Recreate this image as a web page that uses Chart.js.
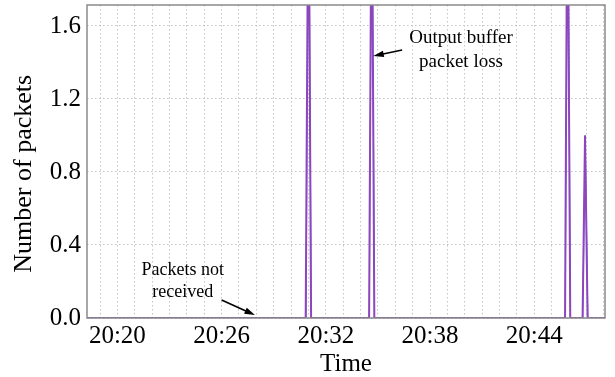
<!DOCTYPE html>
<html>
<head>
<meta charset="utf-8">
<script src="https://cdn.jsdelivr.net/npm/chart.js@4/dist/chart.umd.min.js"></script>
<style>
  body { margin: 0; background: #fff; }
  canvas { display: block; }
</style>
</head>
<body>
<canvas id="packetChart" width="615" height="377"></canvas>
<script>
// time in minutes after 20:00
const timeMin = 18.25;
const timeMax = 48.07;
const purpleTimes = [18.25, 30.84, 31.0, 31.15, 34.49, 34.64, 34.79, 45.77, 45.91, 46.07, 46.78, 46.92, 47.07, 48.07];
const purpleValues = [0, 0, 2.6, 0, 0, 2.6, 0, 0, 2.6, 0, 0, 1.0, 0, 0];
const blueTimes = [18.25, 30.86, 31.01, 31.16, 34.5, 34.65, 34.8, 45.78, 45.92, 46.08, 46.79, 46.93, 47.08, 48.07];
const blueValues = [0, 0, 2.6, 0, 0, 2.6, 0, 0, 2.6, 0, 0, 1.0, 0, 0];

const xGridTicks = Array.from({ length: 30 }, (_, i) => 19 + i); // one grid line per minute
const xLabelStep = 6;
const yTickValues = [0, 0.4, 0.8, 1.2, 1.6];
const yMax = 1.715;
const yTitle = 'Number of packets';
const yTitleCenter = 0.79; // the title sits a little below the middle of the axis

// annotation notes: text lines and arrows, in data units
const notes = [
    { lines: ['Output buffer', 'packet loss'], x: 39.78, y: [1.534, 1.40], size: 19,
      arrow: { x1: 36.39, y1: 1.468, x2: 34.73, y2: 1.436 } },
    { lines: ['Packets not', 'received'], x: 23.76, y: [0.263, 0.139], size: 18,
      arrow: { x1: 26.0, y1: 0.099, x2: 27.92, y2: 0.016 } }
];

const serif = '"Liberation Serif", "DejaVu Serif", serif';

function toPoints(xs, ys) {
    return xs.map((x, i) => ({ x: x, y: ys[i] }));
}

function fmtTime(v) {
    const h = 20 + Math.floor(v / 60);
    const m = Math.round(v % 60);
    return h + ':' + String(m).padStart(2, '0');
}

// frame around the plot area, y title and the text notes
const framePlugin = {
    id: 'frameAndNotes',
    afterDraw(chart) {
        const { ctx, chartArea: a, scales } = chart;
        ctx.save();
        ctx.strokeStyle = '#8a8a8a';
        ctx.lineWidth = 1.5;
        ctx.strokeRect(a.left, a.top, a.right - a.left, a.bottom - a.top);

        ctx.fillStyle = '#000';
        ctx.strokeStyle = '#000';
        ctx.textAlign = 'center';
        ctx.textBaseline = 'middle';

        ctx.save();
        ctx.font = '26px ' + serif;
        ctx.translate(24, scales.y.getPixelForValue(yTitleCenter));
        ctx.rotate(-Math.PI / 2);
        ctx.fillText(yTitle, 0, 0);
        ctx.restore();

        notes.forEach(n => {
            ctx.font = n.size + 'px ' + serif;
            const px = scales.x.getPixelForValue(n.x);
            n.lines.forEach((t, i) => {
                ctx.fillText(t, px, scales.y.getPixelForValue(n.y[i]));
            });
            const x1 = scales.x.getPixelForValue(n.arrow.x1);
            const y1 = scales.y.getPixelForValue(n.arrow.y1);
            const x2 = scales.x.getPixelForValue(n.arrow.x2);
            const y2 = scales.y.getPixelForValue(n.arrow.y2);
            const ang = Math.atan2(y2 - y1, x2 - x1);
            const head = 11;
            ctx.lineWidth = 1.6;
            ctx.beginPath();
            ctx.moveTo(x1, y1);
            ctx.lineTo(x2 - Math.cos(ang) * head * 0.8, y2 - Math.sin(ang) * head * 0.8);
            ctx.stroke();
            ctx.beginPath();
            ctx.moveTo(x2, y2);
            ctx.lineTo(x2 - head * Math.cos(ang - 0.3), y2 - head * Math.sin(ang - 0.3));
            ctx.lineTo(x2 - head * Math.cos(ang + 0.3), y2 - head * Math.sin(ang + 0.3));
            ctx.closePath();
            ctx.fill();
        });
        ctx.restore();
    }
};

const ctx = document.getElementById('packetChart').getContext('2d');
new Chart(ctx, {
    type: 'line',
    data: {
        datasets: [
            {
                label: 'purple',
                data: toPoints(purpleTimes, purpleValues),
                borderColor: 'rgb(140, 70, 190)',
                borderWidth: 2,
                pointRadius: 0,
                tension: 0,
                clip: 0
            },
            {
                label: 'blue',
                data: toPoints(blueTimes, blueValues),
                borderColor: 'rgba(80, 80, 255, 0.85)',
                borderWidth: 1,
                pointRadius: 0,
                tension: 0,
                clip: 0
            }
        ]
    },
    options: {
        responsive: false,
        animation: false,
        layout: { padding: { top: 5, right: 10, left: 0, bottom: 0 } },
        plugins: { legend: { display: false }, tooltip: { enabled: false } },
        scales: {
            x: {
                type: 'linear',
                min: timeMin,
                max: timeMax,
                afterBuildTicks: (scale) => { scale.ticks = xGridTicks.map(v => ({ value: v })); },
                afterFit: (scale) => {
                    scale.height = 59;
                    scale.paddingLeft = 0;
                    scale.paddingRight = 0;
                },
                grid: { color: '#c4c4c4', lineWidth: 1, drawTicks: false },
                border: { display: false, dash: [1.5, 2.5] },
                ticks: {
                    autoSkip: false,
                    maxRotation: 0,
                    padding: 6,
                    color: '#000',
                    font: { family: serif, size: 25, lineHeight: 1 },
                    callback: (v) => ((v - 20) % xLabelStep === 0 ? fmtTime(v) : '')
                },
                title: {
                    display: true,
                    text: 'Time',
                    color: '#000',
                    font: { family: serif, size: 25, lineHeight: 1 },
                    padding: { top: 0, bottom: 0 }
                }
            },
            y: {
                min: 0,
                max: yMax,
                afterBuildTicks: (scale) => { scale.ticks = yTickValues.map(v => ({ value: v })); },
                afterFit: (scale) => {
                    scale.width = 87;
                    scale.paddingTop = 0;
                    scale.paddingBottom = 0;
                },
                grid: { color: '#c4c4c4', lineWidth: 1, drawTicks: false },
                border: { display: false, dash: [1.5, 2.5] },
                ticks: {
                    padding: 6,
                    color: '#000',
                    font: { family: serif, size: 25, lineHeight: 1 },
                    callback: (v) => v.toFixed(1)
                }
            }
        }
    },
    plugins: [framePlugin]
});
</script>
</body>
</html>
